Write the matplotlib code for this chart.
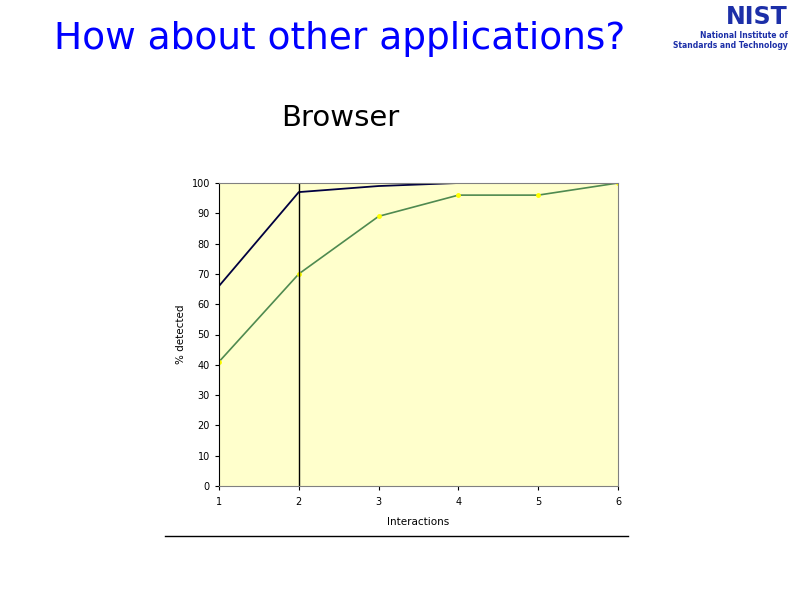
import matplotlib
matplotlib.use("Agg")
import matplotlib.pyplot as plt

# data
interactions = [1, 2, 3, 4, 5, 6]
upper_pct = [66, 97, 99, 100]          # dark line, stops at 4
lower_pct = [41, 70, 89, 96, 96, 100]  # green line
yticks = list(range(0, 101, 10))

W, H = 794, 595
fig = plt.figure(figsize=(W / 100, H / 100), dpi=100)

# plot area: x 219..618, y 183..486 px
ax = fig.add_axes([219 / W, 1 - 486 / H, (618 - 219) / W, (486 - 183) / H])
ax.set_facecolor("#FFFFCC")

ax.plot(interactions[:len(upper_pct)], upper_pct, color="#000040", lw=1.3)
ax.plot(interactions, lower_pct, color="#4F8A50", lw=1.2,
        marker="o", ms=2.5, mfc="#FFFF00", mec="#FFFF00")
ax.axvline(2, color="black", lw=1)

ax.set_xlim(1, 6)
ax.set_ylim(0, 100)
ax.set_xticks(interactions)
ax.set_yticks(yticks)
ax.tick_params(labelsize=7, length=3, colors="black")
ax.tick_params(axis="x", pad=5)
ax.set_xlabel("Interactions", fontsize=7.5, labelpad=7)
ax.set_ylabel("% detected", fontsize=7.5, labelpad=4)
for side in ["top", "right", "bottom"]:
    ax.spines[side].set_color("#808080")
ax.spines["left"].set_color("black")

# rule under the chart
fig.add_artist(plt.Line2D([165 / W, 628 / W], [1 - 536 / H] * 2,
                          color="black", lw=1))

# titles
fig.text(340 / W, 1 - 39 / H, "How about other applications?",
         fontsize=27, color="#0000FF", ha="center", va="center",
         family="DejaVu Sans")
fig.text(340 / W, 1 - 118 / H, "Browser", fontsize=21, color="black",
         ha="center", va="center", family="DejaVu Sans")

# NIST logo as text
fig.text(757 / W, 1 - 17 / H, "NIST", fontsize=17, weight="bold",
         color="#1C2FA8", ha="center", va="center", family="DejaVu Sans")
fig.text(788 / W, 1 - 35 / H, "National Institute of", fontsize=5.5,
         weight="bold", color="#1C2FA8", ha="right", va="center")
fig.text(788 / W, 1 - 45 / H, "Standards and Technology", fontsize=5.5,
         weight="bold", color="#1C2FA8", ha="right", va="center")

fig.savefig("out.png", dpi=100)
